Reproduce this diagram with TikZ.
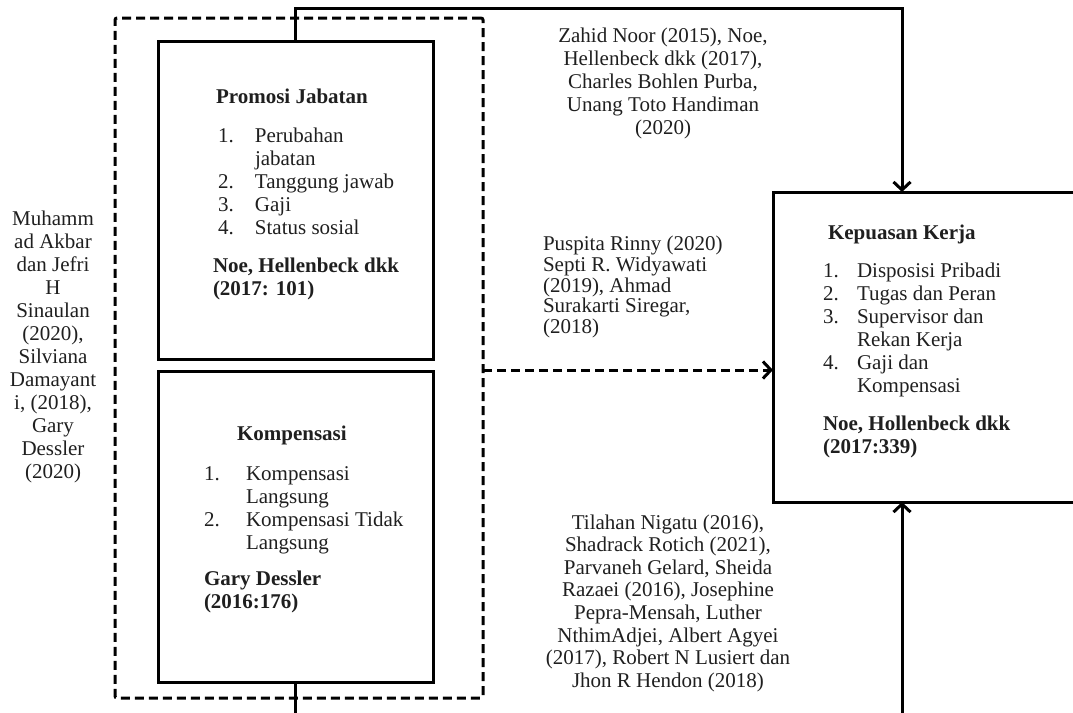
\documentclass[tikz,border=0pt]{standalone}
\usepackage{fontspec}
\setmainfont{Liberation Serif}
\usetikzlibrary{arrows.meta}
\begin{document}
\begin{tikzpicture}[x=1pt,y=-1pt,
  every node/.style={inner sep=0pt, outer sep=0pt, font=\fontsize{21}{23}\selectfont, text=black!88},
  boxs/.style={draw, line width=3pt, rectangle},
  dbox/.style={draw, line width=3pt, dash pattern=on 9pt off 5pt, rounded corners=2pt, rectangle},
  conn/.style={line width=3pt},
  tipa/.style={-{Straight Barb[length=8pt,width=17pt]}}
]
\useasboundingbox (0,0) rectangle (1073,712);

% boxes
\node[dbox, minimum width=368pt, minimum height=680pt, anchor=north west] (outer) at (115,18) {};
\node[boxs, minimum width=275pt, minimum height=318pt, anchor=north west] (promosi) at (158,41) {};
\node[boxs, minimum width=275pt, minimum height=311pt, anchor=north west] (kompensasi) at (158,371) {};
\node[boxs, minimum width=312pt, minimum height=310pt, anchor=north west] (kepuasan) at (773,192) {};

% connectors
\coordinate (topr) at (902,8);
\coordinate (botr) at (902,716);
\draw[conn, tipa] (promosi.north) |- (topr) -- (topr |- kepuasan.north);
\draw[conn, tipa] (kompensasi.south) |- (botr) -- (botr |- kepuasan.south);
\draw[conn, tipa, dash pattern=on 9pt off 5pt] (outer.east |- 0,370) -- (kepuasan.west |- 0,370);

% Promosi content
\node[anchor=base west, font=\fontsize{21}{23}\selectfont\bfseries] (ptitle) at (216,103) {Promosi Jabatan};
\node[anchor=north west] (plist) at (218,126.3) {\begin{tabular}{@{}p{37pt}@{}l@{}}1.&Perubahan\\&jabatan\\2.&Tanggung jawab\\3.&Gaji\\4.&Status sosial\end{tabular}};
\node[anchor=north west, font=\fontsize{21}{23}\selectfont\bfseries] (pref) at (213,256.3) {\begin{tabular}{@{}l@{}}Noe, Hellenbeck dkk\\(2017: 101)\end{tabular}};

% Kompensasi content
\node[anchor=base west, font=\fontsize{21}{23}\selectfont\bfseries] (ktitle) at (237,440) {Kompensasi};
\node[anchor=north west] (klist) at (204,464.3) {\begin{tabular}{@{}p{42pt}@{}l@{}}1.&Kompensasi\\&Langsung\\2.&Kompensasi Tidak\\&Langsung\end{tabular}};
\node[anchor=north west, font=\fontsize{21}{23}\selectfont\bfseries] (kref) at (204,569.3) {\begin{tabular}{@{}l@{}}Gary Dessler\\(2016:176)\end{tabular}};

% Kepuasan content
\node[anchor=base west, font=\fontsize{21}{23}\selectfont\bfseries] (qtitle) at (828,239) {Kepuasan Kerja};
\node[anchor=north west] (qlist) at (823,261.3) {\begin{tabular}{@{}p{34pt}@{}l@{}}1.&Disposisi Pribadi\\2.&Tugas dan Peran\\3.&Supervisor dan\\&Rekan Kerja\\4.&Gaji dan\\&Kompensasi\end{tabular}};
\node[anchor=north west, font=\fontsize{21}{23}\selectfont\bfseries] (qref) at (823,414.3) {\begin{tabular}{@{}l@{}}Noe, Hollenbeck dkk\\(2017:339)\end{tabular}};

% citations
\node[anchor=north] (cleft) at (53,209.3) {\begin{tabular}{@{}c@{}}Muhamm\\ad Akbar\\dan Jefri\\H\\Sinaulan\\(2020),\\Silviana\\Damayant\\i, (2018),\\Gary\\Dessler\\(2020)\end{tabular}};
\node[anchor=north] (ctop) at (663,26.3) {\begin{tabular}{@{}c@{}}Zahid Noor (2015), Noe,\\Hellenbeck dkk (2017),\\Charles Bohlen Purba,\\Unang Toto Handiman\\(2020)\end{tabular}};
\node[anchor=north west, font=\fontsize{21}{20}\selectfont] (cmid) at (543,236.4) {\begin{tabular}{@{}l@{}}Puspita Rinny (2020)\\Septi R. Widyawati\\(2019), Ahmad\\Surakarti Siregar,\\(2018)\end{tabular}};
\node[anchor=north, font=\fontsize{21}{22.6}\selectfont] (cbot) at (668,513.3) {\begin{tabular}{@{}c@{}}Tilahan Nigatu (2016),\\Shadrack Rotich (2021),\\Parvaneh Gelard, Sheida\\Razaei (2016), Josephine\\Pepra-Mensah, Luther\\NthimAdjei, Albert Agyei\\(2017), Robert N Lusiert dan\\Jhon R Hendon (2018)\end{tabular}};
\end{tikzpicture}
\end{document}
